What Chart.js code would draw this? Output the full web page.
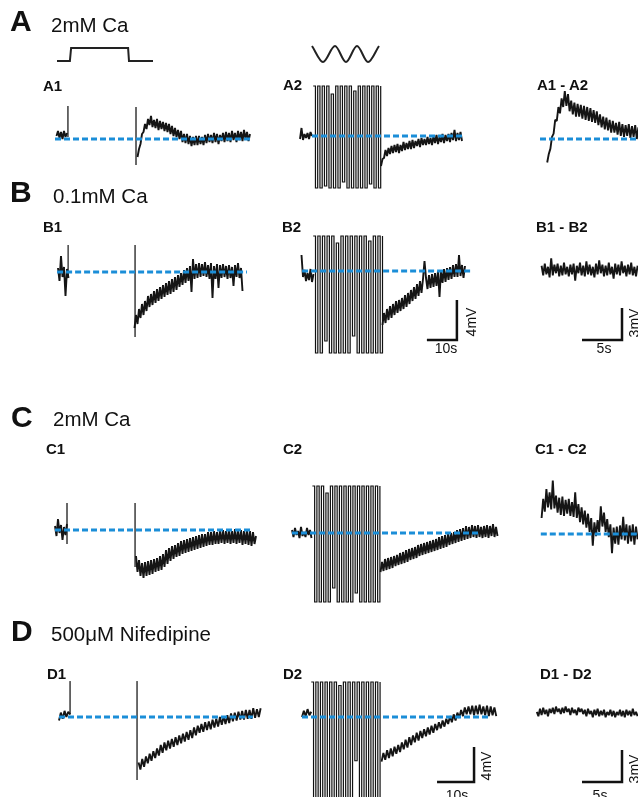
<!DOCTYPE html>
<html><head><meta charset="utf-8">
<script src="https://cdn.jsdelivr.net/npm/chart.js@4.4.1/dist/chart.umd.min.js"></script>
<style>
html,body{margin:0;padding:0;background:#fff;}
#wrap{position:relative;width:638px;height:797px;overflow:hidden;font-family:Arial,"Liberation Sans",sans-serif;color:#111;}
#c{position:absolute;left:0;top:0;}
.t{position:absolute;line-height:1;white-space:nowrap;}
.big{font-size:30px;font-weight:bold;}
.cond{font-size:20.5px;}
.pl{font-size:15px;font-weight:bold;}
.sb{font-size:14px;transform:translateX(-50%);}
.sv{font-size:14px;transform:translate(-50%,-50%) rotate(-90deg);}
</style></head><body>
<div id="wrap">
<canvas id="c" width="638" height="797"></canvas>
<div class="t big" style="left:10px;top:6px">A</div>
<div class="t cond" style="left:51px;top:15px">2mM Ca</div>
<div class="t big" style="left:10px;top:177px">B</div>
<div class="t cond" style="left:53px;top:186px">0.1mM Ca</div>
<div class="t big" style="left:11px;top:402px">C</div>
<div class="t cond" style="left:53px;top:409px">2mM Ca</div>
<div class="t big" style="left:11px;top:616px">D</div>
<div class="t cond" style="left:51px;top:624px">500μM Nifedipine</div>

<div class="t pl" style="left:43px;top:78px">A1</div>
<div class="t pl" style="left:283px;top:77px">A2</div>
<div class="t pl" style="left:537px;top:77px">A1 - A2</div>
<div class="t pl" style="left:43px;top:219px">B1</div>
<div class="t pl" style="left:282px;top:219px">B2</div>
<div class="t pl" style="left:536px;top:219px">B1 - B2</div>
<div class="t pl" style="left:46px;top:441px">C1</div>
<div class="t pl" style="left:283px;top:441px">C2</div>
<div class="t pl" style="left:535px;top:441px">C1 - C2</div>
<div class="t pl" style="left:47px;top:666px">D1</div>
<div class="t pl" style="left:283px;top:666px">D2</div>
<div class="t pl" style="left:540px;top:666px">D1 - D2</div>

<div class="t sb" style="left:446px;top:341px">10s</div>
<div class="t sb" style="left:604px;top:341px">5s</div>
<div class="t sv" style="left:471px;top:322px">4mV</div>
<div class="t sv" style="left:634px;top:323px">3mV</div>
<div class="t sb" style="left:457px;top:788px">10s</div>
<div class="t sb" style="left:600px;top:788px">5s</div>
<div class="t sv" style="left:486px;top:766px">4mV</div>
<div class="t sv" style="left:634px;top:769px">3mV</div>
</div>
<script>
// ---------- DATA (time in s, membrane potential in mV relative to baseline) ----------
const stepTimes = [0, 4.3, 4.7, 23.7, 24.0, 32];
const stepLevels = [0, 0, 1, 1, 0, 0];
const sineTimes = [0, 3.67, 7.67, 11.33, 15, 18.67, 22.33];
const sineLevels = [1, 0, 1, 0, 1, 0, 1];

const A1_pre = [0.3,0.8,0.1,0.7,0.0,0.8,0.2,0.6];
const A1_post = [-1.8,-1.0,-0.5,0.5,0.7,1.5,1.0,2.0,1.4,2.3,1.2,1.9,1.1,2.0,0.9,1.8,1.0,1.7,0.8,1.6,
 0.7,1.5,0.5,1.3,0.3,1.1,0.2,0.9,0.0,0.8,
 -0.3,0.5,-0.4,0.5,-0.5,0.3,-0.7,0.2,-0.6,0.3,
 -0.6,0.3,-0.5,0.2,-0.6,0.4,-0.4,0.5,-0.3,0.4,
 -0.4,0.6,-0.3,0.5,-0.5,0.4,-0.2,0.6,-0.3,0.7,
 -0.2,0.6,-0.3,0.8,-0.1,0.6,-0.3,0.8,-0.1,0.7,
 -0.2,0.9,0.0,0.7,-0.2,0.5];
const A2_pre = [-0.3,0.8,-0.4,0.2,-0.2,0.3,-0.3,0.4,0.0];
const A2_stim = [5.0,-5.2,5.0,-5.2,5.0,-5.0,5.0,-5.2,4.2,-5.2,5.0,-5.2,5.0,-4.6,5.0,-5.2,5.0,-5.2,4.5,-5.2,5.0,-5.2,5.0,-5.2,5.0,-4.8,5.0,-5.2,5.0,-5.2,5.0];
const A2_post = [-3.0,-2.3,-2.2,-1.4,-2.0,-1.2,-1.8,-1.0,-1.7,-0.9,
 -1.6,-0.8,-1.7,-0.9,-1.5,-0.6,-1.4,-0.7,-1.3,-0.5,
 -1.3,-0.4,-1.2,-0.5,-1.0,-0.3,-1.1,-0.2,-0.9,-0.3,
 -0.9,-0.1,-0.8,-0.2,-0.9,0.0,-0.7,0.1,-0.8,-0.1,
 -0.6,0.2,-0.7,0.1,-0.5,0.2,-0.6,0.3,-0.4,0.6,
 -0.5,0.3,-0.4,0.4,-0.5];
const A12_diff = [-2.2,-1.4,-0.9,0.2,0.5,1.8,1.7,3.0,2.4,3.8,
 3.0,4.5,3.1,4.2,2.6,3.6,2.3,3.4,2.1,3.3,
 2.1,3.2,1.9,3.1,1.8,3.0,1.7,2.9,1.6,2.7,
 1.5,2.6,1.3,2.3,1.1,2.1,0.9,2.0,0.8,1.8,
 0.6,1.7,0.6,1.5,0.4,1.6,0.3,1.4,0.2,1.3,
 0.3,1.4,0.1,1.2,0.2,1.3,0.0,1.1];

const B1_pre = [0.4,-0.9,1.6,-0.5,0.5,-2.4,0.3,-0.6];
const B1_post = [-5.6,-4.3,-5.2,-3.7,-4.6,-3.2,-4.3,-2.9,-3.9,-2.4,
 -3.5,-2.2,-3.3,-1.9,-3.1,-1.7,-2.9,-1.5,-2.7,-1.3,
 -2.5,-1.1,-2.3,-0.9,-2.2,-0.7,-2.0,-0.5,-1.8,-0.3,
 -1.5,-0.1,-1.3,0.2,-1.1,0.4,-0.9,0.6,-2.0,1.3,
 -0.7,0.8,-0.6,0.9,-0.5,0.8,-0.4,1.0,-0.5,0.7,
 -0.7,0.9,-2.6,0.6,-0.7,0.8,-1.6,0.7,-0.6,0.8,
 -0.5,0.6,-0.7,0.7,-0.6,0.5,-1.4,0.7,-0.5,0.9,
 -0.6,0.4,-1.9];
const B2_pre = [1.6,-0.6,0.1,-1.0,-0.2,-0.9,0.2,-1.1,-0.3];
const B2_stim = [3.5,-8.2,3.5,-8.2,3.5,-7.0,3.5,-8.2,3.5,-8.2,2.8,-8.2,3.5,-8.2,3.5,-8.2,3.5,-6.5,3.5,-8.2,3.5,-8.2,3.5,-8.2,3.0,-8.2,3.5,-8.2,3.5,-8.2,3.5];
const B2_post = [-5.4,-4.2,-5.2,-3.8,-4.9,-3.5,-4.7,-3.3,-4.4,-3.0,
 -4.2,-2.9,-4.0,-2.7,-3.8,-2.4,-3.6,-2.2,-3.3,-1.9,
 -3.0,-1.6,-2.8,-1.3,-2.5,-1.0,-2.2,-0.8,1.0,-0.7,
 -1.8,-0.4,-1.7,-0.3,-1.6,-0.2,-1.5,0.0,-2.6,0.1,
 -1.2,0.2,-1.1,0.3,-0.9,0.4,-0.8,0.6,-0.6,0.7,
 -0.6,1.6,-0.5,0.6,-0.7,0.5];
const B12_diff = [0.4,-0.5,0.6,-0.4,0.3,-0.7,1.1,-0.5,0.5,-0.3,
 0.6,-0.6,0.4,-0.5,0.7,-0.4,0.3,-0.6,0.5,-0.4,
 0.6,-1.0,0.4,-0.3,0.7,-0.5,0.4,-0.6,0.8,-0.4,
 0.5,-0.5,0.3,-0.7,0.6,-0.4,0.9,-0.3,0.5,-0.6,
 0.4,-0.5,0.7,-0.4,0.3,-0.8,0.6,-0.4,0.5,-0.5,
 0.8,-0.3,0.4,-0.6,0.5,-0.4,0.7,-0.5,0.3,-0.6,0.4];

const C1_pre = [0.4,-0.6,1.1,-0.3,0.5,-1.0,0.3,-0.5,0.6];
const C1_post = [-2.6,-4.2,-3.0,-4.6,-3.3,-4.8,-3.2,-4.6,-3.1,-4.5,
 -3.0,-4.4,-2.9,-4.2,-2.8,-4.1,-2.6,-4.0,-2.4,-3.7,
 -2.0,-3.4,-1.8,-3.1,-1.6,-2.9,-1.5,-2.7,-1.3,-2.6,
 -1.1,-2.4,-1.0,-2.3,-0.9,-2.2,-0.8,-2.1,-0.7,-2.0,
 -0.6,-1.9,-0.5,-1.8,-0.4,-1.7,-0.4,-1.6,-0.2,-1.5,
 -0.2,-1.5,-0.1,-1.4,-0.2,-1.4,-0.1,-1.3,0.0,-1.4,
 -0.1,-1.3,0.0,-1.4,-0.1,-1.3,0.1,-1.4,-0.1,-1.3,
 0.0,-1.5,-0.1,-1.4,0.0,-1.5,-0.1,-1.6,-0.2,-1.4,
 -0.6];
const C2_pre = [0.3,-0.4,0.5,-0.2,0.2,-0.5,0.6,-0.3,0.1,-0.4,0.5,-0.2,0.3,-0.5];
const C2_stim = [4.7,-6.9,4.7,-6.9,4.7,-6.9,4.0,-6.9,4.7,-5.5,4.7,-6.9,4.7,-6.9,4.7,-6.9,4.7,-6.9,4.7,-6.0,4.7,-6.9,4.7,-6.9,4.7,-6.9,4.7,-6.9,4.7,-6.9,4.7];
const C2_post = [-3.9,-2.9,-3.8,-2.6,-3.7,-2.5,-3.6,-2.4,-3.5,-2.3,
 -3.3,-2.2,-3.2,-2.0,-3.1,-1.9,-3.0,-1.7,-2.9,-1.6,
 -2.7,-1.5,-2.6,-1.4,-2.5,-1.2,-2.3,-1.1,-2.2,-1.0,
 -2.1,-0.9,-2.0,-0.8,-1.9,-0.7,-1.8,-0.6,-1.7,-0.4,
 -1.6,-0.3,-1.5,-0.2,-1.4,-0.1,-1.2,0.0,-1.1,0.1,
 -1.0,0.3,-0.9,0.4,-0.8,0.5,-0.7,0.7,-0.6,0.6,
 -0.5,0.8,-0.4,0.7,-0.5,0.8,-0.4,0.6,-0.5,0.7,
 -0.4,0.8,-0.5,0.7,-0.3,0.9,-0.4,0.6,-0.3];
const C12_diff = [1.5,3.3,2.1,4.2,2.5,3.9,2.3,5.0,2.4,3.6,
 2.0,3.4,1.8,3.5,1.7,3.2,1.9,3.3,1.7,3.0,
 1.6,3.9,1.5,2.8,1.1,2.5,0.9,2.2,0.6,1.9,
 0.2,1.5,-1.1,1.1,-0.2,1.3,0.2,2.6,0.7,2.0,
 0.2,1.4,-0.3,0.9,-1.8,0.6,-0.9,0.7,-1.0,0.8,
 -0.5,1.6,-0.6,0.9,-0.9,0.8,-0.7,0.9,-1.0,0.7,-0.5];

const D1_pre = [-0.4,0.5,-0.2,0.7,0.0,0.6,0.3];
const D1_post = [-5.2,-6.0,-4.8,-5.7,-4.5,-5.3,-4.2,-5.0,-3.9,-4.7,
 -3.6,-4.4,-3.2,-4.1,-2.9,-3.8,-2.7,-3.6,-2.5,-3.4,
 -2.3,-3.2,-2.1,-3.0,-1.9,-2.8,-1.7,-2.6,-1.5,-2.4,
 -1.2,-2.1,-1.0,-1.8,-0.8,-1.7,-0.6,-1.5,-0.5,-1.4,
 -0.3,-1.2,-0.2,-1.1,0.0,-0.9,0.1,-0.8,0.2,-0.7,
 0.4,-0.5,0.5,-0.4,0.6,-0.3,0.7,-0.3,0.8,-0.2,
 0.8,-0.2,1.0,-0.1,0.9,0.0,1.0];
const D2_pre = [0.0,0.7,0.1,0.9,0.2,0.6];
const D2_stim = [4.0,-9.5,4.0,-9.5,4.0,-9.5,4.0,-9.5,4.0,-9.5,4.0,-9.5,3.6,-9.5,4.0,-9.5,4.0,-9.5,4.0,-5.0,4.0,-9.5,4.0,-9.5,4.0,-9.5,4.0,-9.5,4.0,-9.5,4.0];
const D2_post = [-5.1,-4.1,-4.9,-3.8,-4.7,-3.6,-4.5,-3.4,-4.2,-3.2,
 -4.0,-2.9,-3.7,-2.6,-3.5,-2.3,-3.2,-2.1,-2.9,-1.8,
 -2.7,-1.6,-2.4,-1.4,-2.2,-1.2,-2.0,-1.0,-1.8,-0.8,
 -1.5,-0.6,-1.3,-0.4,-1.1,-0.2,-0.8,0.1,-0.6,0.3,
 -0.4,0.5,-0.1,0.8,0.1,1.1,0.3,1.2,0.3,1.3,
 0.2,1.3,0.3,1.4,0.3,1.2,0.2,1.3,0.1,1.2,
 0.2,1.1,0.1];
const D12_diff = [0.1,-0.3,0.4,-0.2,0.5,-0.1,0.3,-0.3,0.4,0.0,0.5,-0.1,0.6,0.1,0.4,-0.1,0.5,0.0,0.6,0.1,
 0.4,-0.2,0.5,0.0,0.3,-0.2,0.5,0.1,0.4,-0.1,0.3,-0.3,0.4,-0.1,0.2,-0.4,0.3,-0.2,0.4,-0.3,
 0.2,-0.2,0.3,-0.4,0.1,-0.2,0.3,-0.3,0.2,-0.4,0.1,-0.2,0.3,-0.3,0.2,-0.4,0.3,-0.2,0.2,-0.3,0.4,-0.2,0.1,-0.3];

// [panel, start time, sample interval, values]
const traces = [
 ['A1',0.5,0.5,A1_pre],['A1',27.5,0.5,A1_post],['A2',0,0.5,A2_pre],['A2',27.0,0.5,A2_post],['A3',0.9,0.2,A12_diff],
 ['B1',1.0,0.5,B1_pre],['B1',26.5,0.5,B1_post],['B2',0.5,0.5,B2_pre],['B2',27.5,0.5,B2_post],['B3',0.2,0.2,B12_diff],
 ['C1',0,0.5,C1_pre],['C1',27.0,0.5,C1_post],['C2',0,0.5,C2_pre],['C2',29.5,0.5,C2_post],['C3',0.2,0.2,C12_diff],
 ['D1',0,0.5,D1_pre],['D1',21.5,0.5,D1_post],['D2',0,0.5,D2_pre],['D2',21.5,0.5,D2_post],['D3',0.1,0.2,D12_diff]
];
const stimTraces = [['A2',4.4,0.75,A2_stim],['B2',4.4,0.77,B2_stim],['C2',6.8,0.75,C2_stim],['D2',2.5,0.62,D2_stim]];
// [panel, time, top mV, bottom mV]
const spikes = [['A1',4.3,3.3,0.2],['A1',27.0,3.2,-2.6],['B1',4.4,2.7,-0.3],['B1',26.7,2.7,-6.5],
 ['C1',4.0,2.7,-1.4],['C1',26.7,2.7,-3.7],['D1',3.0,4.1,0.3],['D1',21.1,4.1,-7.2]];
// [panel, from s, to s] at 0 mV
const baselines = [['A1',0,65.7],['A2',4,54],['A3',0,12.25],['B1',0.7,64],['B2',0.7,56.7],
 ['C1',0,65.7],['C2',0,62.7],['C3',0.1,12.25],['D1',0,52.4],['D2',0,50.8]];
// scale bars [panel, t start, t end, v bottom, v top]
const scaleBars = [['B2',42.3,52.3,-6.9,-2.9],['B3',5.25,10.25,-6.56,-3.56],['D2',36.5,46.5,-7.43,-3.43],['D3',5.75,10.75,-6.47,-3.47]];

// ---------- LAYOUT: panel frames [x of t=0 (px), y of 0 mV (px), px per s, px per mV] ----------
const W = 638, H = 797;
const frames = {
 S1:[57,61,3,13], S2:[312,62,3,16],
 A1:[55,139,3,10], A2:[300,136,3,10], A3:[540,139,8,10.67],
 B1:[55,272,3,10], B2:[300,271,3,10], B3:[540,270,8,10.67],
 C1:[55,530,3,10], C2:[292,533,3,10], C3:[540,534,8,10.67],
 D1:[59,717,3.7,8.75], D2:[302,717,3.7,8.75], D3:[536,713,8,10.67]
};
const scales = {};
for (const k in frames) {
  const [x0,y0,pxs,pxm] = frames[k];
  scales['x'+k] = {type:'linear',axis:'x',display:false,bounds:'data',min:-x0/pxs,max:(W-x0)/pxs};
  scales['y'+k] = {type:'linear',axis:'y',display:false,bounds:'data',min:-(H-y0)/pxm,max:y0/pxm};
}
const datasets = [];
const ax = p => ({xAxisID:'x'+p, yAxisID:'y'+p});
baselines.forEach(([p,a,b]) => datasets.push({...ax(p), data:[{x:a,y:0},{x:b,y:0}], borderColor:'#1b8ed8', borderWidth:3, borderDash:[6,3], borderCapStyle:'butt', order:0}));
scaleBars.forEach(([p,a,b,vb,vt]) => datasets.push({...ax(p), data:[{x:a,y:vb},{x:b,y:vb},{x:b,y:vt}], borderColor:'#111', borderWidth:2.5, borderJoinStyle:'miter', borderCapStyle:'butt', order:1}));
datasets.push({...ax('S1'), data:stepTimes.map((t,i)=>({x:t,y:stepLevels[i]})), borderColor:'#222', borderWidth:2, order:1});
datasets.push({...ax('S2'), data:sineTimes.map((t,i)=>({x:t,y:sineLevels[i]})), borderColor:'#222', borderWidth:2, cubicInterpolationMode:'monotone', order:1});
traces.forEach(([p,t0,dt,v]) => datasets.push({...ax(p), data:v.map((y,i)=>({x:t0+i*dt,y})), borderColor:'#151515', borderWidth:1.9, borderJoinStyle:'bevel', order:2}));
spikes.forEach(([p,t,a,b]) => datasets.push({...ax(p), data:[{x:t,y:a},{x:t,y:b}], borderColor:'#555', borderWidth:1, order:2}));
stimTraces.forEach(([p,t0,dt,v]) => datasets.push({...ax(p), data:v.map((y,i)=>({x:t0+i*dt,y})), borderColor:'#111', borderWidth:1.2, stepped:'before', order:3}));

new Chart(document.getElementById('c'), {
  type:'scatter',
  data:{datasets},
  options:{
    responsive:false, animation:false, devicePixelRatio:1,
    layout:{padding:0},
    showLine:true,
    elements:{point:{radius:0,hitRadius:0,hoverRadius:0}, line:{tension:0, fill:false}},
    plugins:{legend:{display:false}, tooltip:{enabled:false}},
    events:[],
    scales
  }
});
</script>
</body></html>
